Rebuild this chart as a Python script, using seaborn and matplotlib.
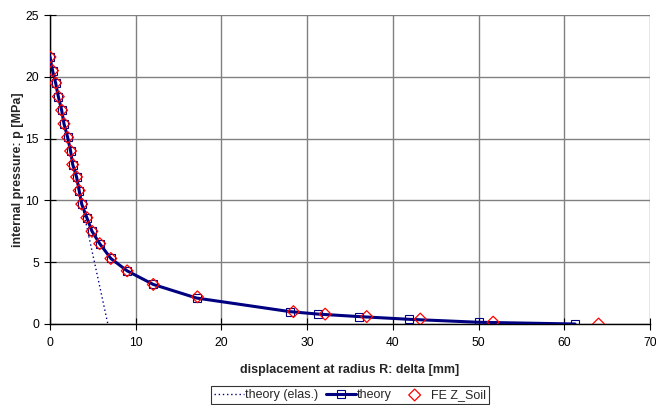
import matplotlib
matplotlib.use("Agg")
import matplotlib.pyplot as plt
import seaborn as sns

sns.set_theme(style="white")
plt.rcParams['font.family'] = ['Liberation Sans', 'DejaVu Sans']

# theory (elastic) line
elas_delta = [0.0, 6.75]
elas_p = [21.6, 0.0]

# theory (plastic) points
theory_delta = [0.0, 0.3, 0.66, 0.97, 1.36, 1.63, 2.06, 2.4, 2.65, 3.1, 3.4, 3.7, 4.3,
                4.9, 5.8, 7.1, 9.0, 12.05, 17.1, 28.0, 31.3, 36.05, 41.9, 50.0, 61.25]
theory_p = [21.6, 20.5, 19.5, 18.4, 17.3, 16.2, 15.1, 14.0, 12.9, 11.9, 10.8, 9.7, 8.6,
            7.5, 6.5, 5.3, 4.3, 3.2, 2.1, 1.0, 0.8, 0.6, 0.38, 0.14, 0.0]

# FE Z_Soil points
fe_delta = [0.0, 0.3, 0.66, 0.97, 1.36, 1.63, 2.06, 2.4, 2.65, 3.1, 3.4, 3.7, 4.3,
            4.9, 5.8, 7.1, 9.0, 12.05, 17.2, 28.4, 32.1, 36.95, 43.2, 51.7, 64.0]
fe_p = [21.6, 20.5, 19.5, 18.4, 17.3, 16.2, 15.1, 14.0, 12.9, 11.9, 10.8, 9.7, 8.6,
        7.5, 6.5, 5.3, 4.3, 3.2, 2.2, 1.0, 0.8, 0.6, 0.4, 0.15, 0.0]

x_ticks = [0, 10, 20, 30, 40, 50, 60, 70]
y_ticks = [0, 5, 10, 15, 20, 25]

fig = plt.figure(figsize=(6.56, 4.05), dpi=100)
ax = fig.add_axes([50 / 656, 81 / 405, 600 / 656, 309 / 405])

navy = "#000080"
sns.lineplot(x=elas_delta, y=elas_p, ax=ax, color=navy, linestyle=(0, (1, 2)),
             linewidth=1.0, label="theory (elas.)", zorder=3)
sns.lineplot(x=theory_delta, y=theory_p, ax=ax, color=navy, linewidth=2.2,
             marker="s", markersize=6, markerfacecolor="none", markeredgecolor=navy,
             markeredgewidth=0.8, label="theory", zorder=4, sort=False)
sns.scatterplot(x=fe_delta, y=fe_p, ax=ax, marker="D", s=36,
                facecolor="none", edgecolor="#ff0000", linewidth=0.9,
                label="FE Z_Soil", zorder=5)

ax.set_xlim(0, 70)
ax.set_ylim(0, 25)
ax.set_xticks(x_ticks)
ax.set_yticks(y_ticks)
ax.tick_params(axis='both', labelsize=8.7, colors="black", length=8, width=0.8,
               direction='inout', bottom=True, left=True)
ax.tick_params(axis='x', pad=5)
ax.tick_params(axis='y', pad=4)
ax.grid(True, color="#808080", linewidth=1.0)
ax.set_axisbelow(True)
for s in ['top', 'right']:
    ax.spines[s].set_visible(False)
for s in ['left', 'bottom']:
    ax.spines[s].set_color("black")
    ax.spines[s].set_linewidth(1.0)

ax.set_xlabel("displacement at radius R: delta [mm]", fontsize=9, fontweight="bold", labelpad=11)
ax.set_ylabel("internal pressure: p [MPa]", fontsize=9, fontweight="bold", labelpad=1)

leg = ax.legend(loc="lower center", bbox_to_anchor=(0.5, -81 / 309), ncol=3, fontsize=9,
                frameon=True, fancybox=False, edgecolor="black", handlelength=2.4,
                columnspacing=0.6, handletextpad=0.1, borderpad=0.25,
                borderaxespad=0.05)
leg.get_frame().set_linewidth(0.8)

fig.savefig("out.png", dpi=100)
